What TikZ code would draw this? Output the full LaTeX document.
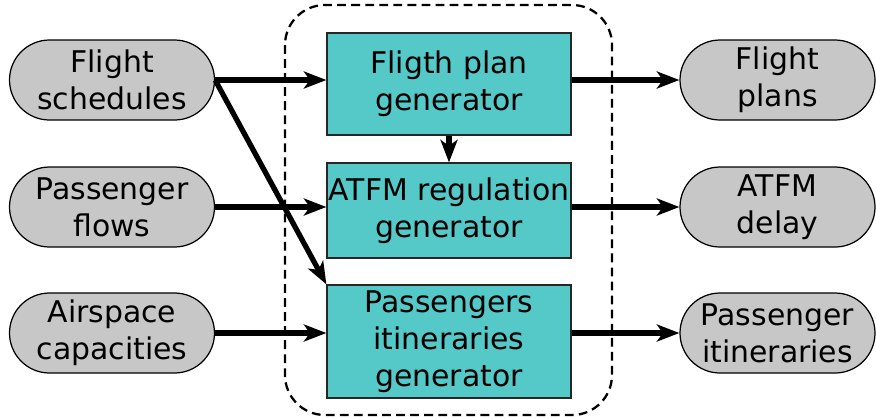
\documentclass[tikz,border=0pt]{standalone}
\usepackage{fontspec}
\setmainfont{DejaVu Sans}
\usetikzlibrary{arrows.meta}

\definecolor{teal1}{RGB}{85,200,200}
\tikzset{
  datanode/.style={draw=black, line width=0.7pt, fill=black!22, rounded corners=0.8cm, minimum width=4.1cm, minimum height=1.6cm, align=center, font=\fontsize{17}{21}\selectfont},
  gennode/.style={draw=black!85, line width=0.7pt, fill=teal1, inner sep=0.5pt, minimum width=4.88cm, align=center, font=\fontsize{17}{21}\selectfont},
  flow/.style={-{Stealth[length=0.45cm,width=0.34cm,inset=0.12cm]}, line width=3pt},
}

\begin{document}
\begin{tikzpicture}
  \useasboundingbox (0,0) rectangle (17.52,-8.36);
  \draw[dash pattern=on 5pt off 3pt, line width=1.3pt, rounded corners=0.8cm] (5.7,-0.1) rectangle (12.24,-8.3);

  % inputs
  \node[datanode] (sched) at (2.24,-1.6) {Flight\\schedules};
  \node[datanode] (pflow) at (2.24,-4.14) {Passenger\\flows};
  \node[datanode] (capac) at (2.24,-6.66) {Airspace\\capacities};

  % generators
  \node[gennode, minimum height=2.04cm] (plangen) at (8.98,-1.68) {Fligth plan\\generator};
  \node[gennode, minimum height=1.9cm] (atfmgen) at (8.98,-4.21) {ATFM regulation\\generator};
  \node[gennode, minimum height=2.26cm] (itingen) at (8.98,-6.83) {Passengers\\itineraries\\generator};

  % outputs
  \node[datanode, minimum width=3.9cm] (plans) at (15.55,-1.6) {Flight\\plans};
  \node[datanode, minimum width=3.9cm] (delay) at (15.55,-4.14) {ATFM\\delay};
  \node[datanode, minimum width=3.9cm] (itins) at (15.55,-6.66) {Passenger\\itineraries};

  \draw[flow] (sched.east) -- (sched.east -| plangen.west);
  \draw[flow] (sched.east) -- (itingen.north west);
  \draw[flow] (pflow.east) -- (pflow.east -| atfmgen.west);
  \draw[flow] (capac.east) -- (capac.east -| itingen.west);
  \draw[flow] (plangen.south) -- (atfmgen.north);
  \draw[flow] (plangen.east |- plans.west) -- (plans.west);
  \draw[flow] (atfmgen.east |- delay.west) -- (delay.west);
  \draw[flow] (itingen.east |- itins.west) -- (itins.west);
\end{tikzpicture}
\end{document}
